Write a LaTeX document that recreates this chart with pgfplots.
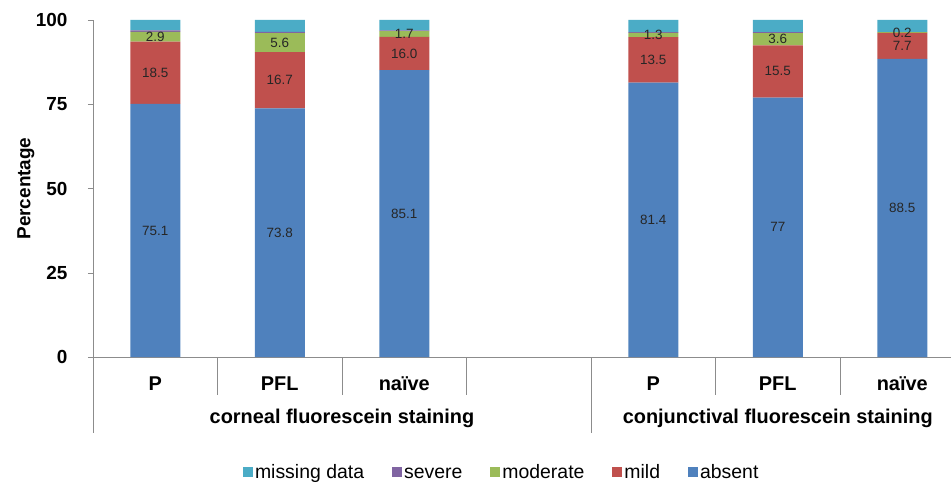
\documentclass[border=0pt]{standalone}
\usepackage{fontspec}
\setmainfont{Liberation Sans}
\usepackage{pgfplots}
\pgfplotsset{compat=1.18}
\usepackage{pgfplotstable}

\definecolor{cabsent}{HTML}{4F81BD}
\definecolor{cmild}{HTML}{C0504D}
\definecolor{cmoderate}{HTML}{9BBB59}
\definecolor{csevere}{HTML}{8064A2}
\definecolor{cmissing}{HTML}{4BACC6}
\definecolor{axgray}{HTML}{8C8C8C}

% stacked segments (percent)
\pgfplotstableread{
x absent mild moderate severe missing
0 75.1 18.5 2.9 0.4 3.1
1 73.8 16.7 5.6 0.4 3.5
2 85.1 9.9 1.7 0.2 3.1
4 81.4 13.5 1.3 0.2 3.6
5 77.0 15.5 3.6 0.3 3.6
6 88.5 7.7 0.2 0.0 3.6
}\bars

% data labels, centred in their segments
\pgfplotstableread{
x y label
0 37.55 75.1
0 84.35 18.5
0 95.05 2.9
1 36.9 73.8
1 82.15 16.7
1 93.3 5.6
2 42.55 85.1
2 90.05 16.0
2 95.85 1.7
4 40.7 81.4
4 88.15 13.5
4 95.55 1.3
5 38.5 77
5 84.75 15.5
5 94.3 3.6
6 44.25 88.5
6 92.35 7.7
6 96.3 0.2
}\labels

\pgfplotsset{
  base/.style={
    scale only axis,
    at={(93bp,130bp)}, anchor=south west,
    width=871.5bp, height=337bp,
    xmin=-0.5, xmax=6.5,
    ymin=0, ymax=100,
    clip=false,
  }
}

\begin{document}
\begin{tikzpicture}
\useasboundingbox (0,0) rectangle (951bp,487bp);
\begin{axis}[
    base,
    ybar stacked,
    bar width=50bp,
    axis lines=left,
    axis line style={-, draw=axgray},
    ytick={0,25,50,75,100},
    y tick style={draw=axgray},
    tick align=outside,
    major tick length=5bp,
    /pgf/number format/assume math mode=true,
    yticklabel style={font=\fontsize{19}{22}\selectfont\bfseries, xshift=-17bp},
    xtick={0,1,2,4,5,6},
    xticklabels={P,PFL,naïve,P,PFL,naïve},
    x tick style={draw=none},
    xticklabel style={anchor=base, yshift=-28bp, font=\fontsize{20}{22}\selectfont\bfseries},
    ylabel={Percentage},
    ylabel style={at={(axis description cs:-0.077,0.5)}, anchor=center, font=\fontsize{19}{22}\selectfont\bfseries},
    legend columns=5,
    reverse legend,
    legend image code/.code={\draw[#1, draw=none] (0bp,-2bp) rectangle (10bp,8bp);},
    legend style={at={(0.469,-0.35)}, anchor=center, draw=none,
      font=\fontsize{19.5}{22}\selectfont,
      nodes={inner sep=2bp, text height=1.6ex, text depth=0.4ex},
      /tikz/every even column/.append style={column sep=26bp}},
]
\addplot[fill=cabsent, draw=none] table[x=x, y=absent] {\bars};
\addlegendentry{absent}
\addplot[fill=cmild, draw=none] table[x=x, y=mild] {\bars};
\addlegendentry{mild}
\addplot[fill=cmoderate, draw=none] table[x=x, y=moderate] {\bars};
\addlegendentry{moderate}
\addplot[fill=csevere, draw=none] table[x=x, y=severe] {\bars};
\addlegendentry{severe}
\addplot[fill=cmissing, draw=none] table[x=x, y=missing] {\bars};
\addlegendentry{missing data}

% category separators below the axis
\pgfplotsinvokeforeach{0.5,1.5,2.5,4.5,5.5}{
  \draw[axgray] (axis cs:#1,0) -- ([yshift=-38bp]axis cs:#1,0);
}
\pgfplotsinvokeforeach{-0.5,3.5,6.5}{
  \draw[axgray] (axis cs:#1,0) -- ([yshift=-76bp]axis cs:#1,0);
}
\node[anchor=base, font=\fontsize{20}{22}\selectfont\bfseries] at ([yshift=-66bp]axis cs:1.5,0) {corneal fluorescein staining};
\node[anchor=base, font=\fontsize{20}{22}\selectfont\bfseries] at ([yshift=-66bp]axis cs:5,0) {conjunctival fluorescein staining};
\end{axis}

\begin{axis}[base, hide axis]
\addplot[only marks, mark=*, mark size=0pt, mark options={draw=none, fill=none},
  nodes near coords, point meta=explicit symbolic,
  every node near coord/.append style={anchor=center, text=black!85, font=\fontsize{13.5}{15}\selectfont}]
  table[x=x, y=y, meta=label] {\labels};
\end{axis}
\end{tikzpicture}
\end{document}
